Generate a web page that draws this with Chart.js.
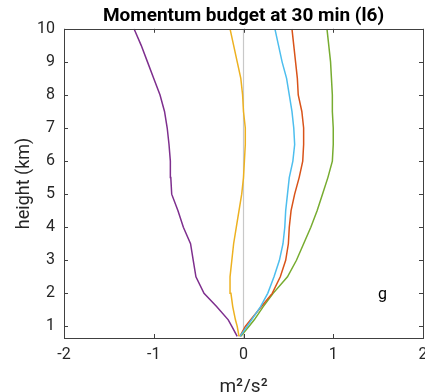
<!DOCTYPE html>
<html>
<head>
<meta charset="utf-8">
<script src="https://cdn.jsdelivr.net/npm/chart.js@4.4.1/dist/chart.umd.min.js"></script>
<style>
  html, body { margin: 0; padding: 0; background: #fff; overflow: hidden; }
  #wrap { width: 425px; height: 392px; }
</style>
</head>
<body>
<div id="wrap"><canvas id="budgetChart"></canvas></div>
<script>
// heights (km) shared by every profile
const heights = [0.7, 1.0, 1.2, 1.6, 2.0, 2.5, 3.0, 3.5, 4.0, 4.5, 5.0, 5.5, 6.0, 6.5, 7.0, 7.5, 8.0, 8.5, 9.0, 9.5, 10.0];

const purpleVals = [-0.07, -0.13, -0.17, -0.30, -0.44, -0.53, -0.56, -0.59, -0.67, -0.73, -0.80, -0.81, -0.815, -0.83, -0.85, -0.88, -0.93, -1.00, -1.07, -1.14, -1.22];
const orangeVals = [-0.05, -0.07, -0.09, -0.12, -0.14, -0.15, -0.13, -0.11, -0.08, -0.05, -0.02, 0.00, 0.01, 0.02, 0.02, 0.00, -0.01, -0.03, -0.07, -0.11, -0.15];
const cyanVals   = [-0.04, 0.04, 0.09, 0.19, 0.27, 0.34, 0.40, 0.44, 0.46, 0.47, 0.49, 0.51, 0.55, 0.57, 0.56, 0.54, 0.51, 0.48, 0.43, 0.39, 0.35];
const redVals    = [-0.04, 0.02, 0.08, 0.20, 0.32, 0.41, 0.47, 0.50, 0.51, 0.53, 0.57, 0.62, 0.66, 0.67, 0.67, 0.65, 0.61, 0.60, 0.58, 0.56, 0.54];
const greenVals  = [-0.03, 0.06, 0.12, 0.22, 0.33, 0.49, 0.59, 0.67, 0.75, 0.82, 0.88, 0.94, 0.99, 1.00, 1.00, 0.99, 0.99, 0.98, 0.97, 0.95, 0.93];

// vertical zero reference line
const zeroLineX = [0, 0];
const zeroLineY = [0.65, 10];

const xTicks = [-2, -1, 0, 1, 2];
const yTicks = [1, 2, 3, 4, 5, 6, 7, 8, 9, 10];

const panelLabel = { text: 'g', x: 1.55, y: 1.96 };

function toPoints(xs, ys) {
    return xs.map((v, i) => ({ x: v, y: ys[i] }));
}

function profile(vals, color) {
    return {
        data: toPoints(vals, heights),
        borderColor: color,
        borderWidth: 1.5,
        pointRadius: 0,
        showLine: true,
        fill: false,
        tension: 0
    };
}

const axisColor = '#404040';
const textColor = '#262626';

// box around the plot with inward ticks on all sides + panel letter
const boxPlugin = {
    id: 'boxPlugin',
    afterDatasetsDraw(chart) {
        const ctx = chart.ctx;
        const a = chart.chartArea;
        const xs = chart.scales.x;
        const ys = chart.scales.y;
        ctx.save();
        ctx.strokeStyle = axisColor;
        ctx.lineWidth = 1;
        ctx.beginPath();
        xTicks.forEach(v => {
            const px = Math.round(xs.getPixelForValue(v)) + 0.5;
            ctx.moveTo(px, a.bottom); ctx.lineTo(px, a.bottom - 4);
            ctx.moveTo(px, a.top); ctx.lineTo(px, a.top + 4);
        });
        yTicks.forEach(v => {
            const py = Math.round(ys.getPixelForValue(v)) + 0.5;
            ctx.moveTo(a.left, py); ctx.lineTo(a.left + 4, py);
            ctx.moveTo(a.right, py); ctx.lineTo(a.right - 4, py);
        });
        ctx.stroke();
        ctx.strokeRect(Math.round(a.left) + 0.5, Math.round(a.top) + 0.5,
            Math.round(a.right - a.left), Math.round(a.bottom - a.top));

        ctx.fillStyle = '#000';
        ctx.font = '16px Roboto';
        ctx.textAlign = 'center';
        ctx.textBaseline = 'middle';
        ctx.fillText(panelLabel.text, xs.getPixelForValue(panelLabel.x), ys.getPixelForValue(panelLabel.y));
        ctx.restore();
    }
};

Chart.defaults.font.family = 'Roboto';
Chart.defaults.color = textColor;

const ctx = document.getElementById('budgetChart').getContext('2d');
new Chart(ctx, {
    type: 'scatter',
    data: {
        datasets: [
            profile(purpleVals, '#7E2F8E'),
            profile(orangeVals, '#EDB120'),
            profile(cyanVals, '#4DBEEE'),
            profile(redVals, '#D95319'),
            profile(greenVals, '#77AC30'),
            {
                data: toPoints(zeroLineX, zeroLineY),
                borderColor: '#c8c8c8',
                borderWidth: 1.2,
                pointRadius: 0,
                showLine: true,
                order: 10
            }
        ]
    },
    options: {
        responsive: true,
        maintainAspectRatio: false,
        animation: false,
        layout: { padding: { left: 0, right: 2, top: 0, bottom: 0 } },
        plugins: {
            legend: { display: false },
            tooltip: { enabled: false },
            title: {
                display: true,
                fullSize: false,
                text: 'Momentum budget at 30 min (l6)',
                color: '#000',
                font: { size: 19, weight: 'bold' },
                padding: { top: 5, bottom: 1 }
            }
        },
        scales: {
            x: {
                type: 'linear',
                min: -2,
                max: 2,
                afterBuildTicks: s => { s.ticks = xTicks.map(v => ({ value: v })); },
                afterFit: s => { s.height = 54; s.paddingLeft = 0; s.paddingRight = 0; },
                grid: { display: false, drawTicks: false },
                border: { display: false },
                ticks: { font: { size: 16 }, padding: 7, maxRotation: 0 },
                title: {
                    display: true,
                    text: 'm²/s²',
                    font: { size: 19 },
                    padding: { top: 0, bottom: -7 }
                }
            },
            y: {
                type: 'linear',
                min: 0.65,
                max: 10,
                afterBuildTicks: s => { s.ticks = yTicks.map(v => ({ value: v })); },
                afterFit: s => { s.width = 64; s.paddingTop = 0; s.paddingBottom = 0; },
                grid: { display: false, drawTicks: false },
                border: { display: false },
                ticks: { font: { size: 16 }, padding: 9 },
                title: {
                    display: true,
                    text: 'height (km)',
                    font: { size: 18 },
                    padding: { top: 14, bottom: 0 }
                }
            }
        }
    },
    plugins: [boxPlugin]
});
</script>
</body>
</html>
